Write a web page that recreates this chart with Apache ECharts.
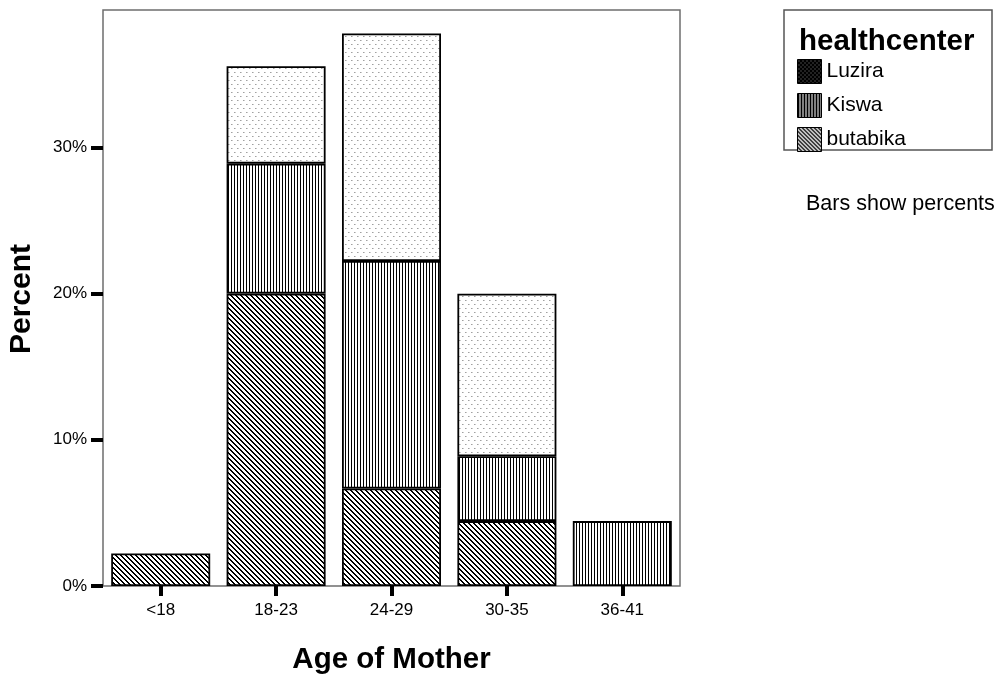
<!DOCTYPE html>
<html>
<head>
<meta charset="utf-8">
<script src="https://cdn.jsdelivr.net/npm/echarts@6/dist/echarts.min.js"></script>
<style>html,body{margin:0;padding:0;background:#fff}#c{width:1000px;height:677px}</style>
</head>
<body>
<div id="c"></div>
<script>
// ---- data (percent of 45 mothers) ----
const categories = ['<18', '18-23', '24-29', '30-35', '36-41'];
const butabika = [2.22, 20.00, 6.67, 4.44, null];
const kiswa    = [null, 8.89, 15.56, 4.44, 4.44];
const luzira   = [null, 6.67, 15.56, 11.11, null];
const yTicks   = [0, 10, 20, 30];
const legendNames = ['Luzira', 'Kiswa', 'butabika'];

function tile(w, h, bg, draw) {
  const c = document.createElement('canvas');
  c.width = w; c.height = h;
  const ctx = c.getContext('2d');
  ctx.fillStyle = bg; ctx.fillRect(0, 0, w, h);
  draw(ctx);
  return { image: c, repeat: 'repeat' };
}
function diag(period, dark) {
  return tile(period, period, '#fff', ctx => {
    ctx.fillStyle = '#000';
    for (let y = 0; y < period; y++) for (let x = 0; x < period; x++)
      if (((x - y) % period + period) % period < dark) ctx.fillRect(x, y, 1, 1);
  });
}
const diagPat = diag(5, 2);
const vertPat = tile(3, 1, '#fff', ctx => { ctx.fillStyle = '#000'; ctx.fillRect(0, 0, 1, 1); });
const dotPat = tile(6, 8, '#fff', ctx => {
  ctx.fillStyle = '#a0a0a0';
  ctx.fillRect(0, 0, 1, 1); ctx.fillRect(3, 4, 1, 1);
  ctx.fillStyle = '#cccccc';
  ctx.fillRect(1, 0, 1, 1); ctx.fillRect(4, 4, 1, 1);
});
const dotLeg = tile(4, 4, '#000', ctx => {
  ctx.fillStyle = '#8a8a8a';
  ctx.fillRect(1, 1, 1, 1); ctx.fillRect(3, 3, 1, 1);
});
const vertLeg = tile(3, 1, '#000', ctx => { ctx.fillStyle = '#fff'; ctx.fillRect(2, 0, 1, 1); });
const diagLeg = diag(4, 2);

const FONT = 'Liberation Sans, Arial, sans-serif';
const chart = echarts.init(document.getElementById('c'), null, { renderer: 'canvas' });
const barStyle = pat => ({ color: pat, borderColor: '#000', borderWidth: 1.8 });

chart.setOption({
  animation: false,
  backgroundColor: '#fff',
  grid: { left: 103, right: 320, top: 10, bottom: 91, show: true,
          borderColor: '#6e6e6e', borderWidth: 1.5, backgroundColor: 'transparent' },
  xAxis: {
    type: 'category', data: categories,
    axisLine: { show: false },
    axisTick: { show: true, alignWithLabel: true, length: 10, lineStyle: { color: '#000', width: 4 } },
    axisLabel: { color: '#000', fontFamily: FONT, fontSize: 17, margin: 16 },
    splitLine: { show: false }
  },
  yAxis: {
    type: 'value', min: 0, max: 39.4, interval: 10,
    axisLine: { show: false },
    axisTick: { show: true, length: 12, customValues: yTicks, lineStyle: { color: '#000', width: 4 } },
    axisLabel: { color: '#000', fontFamily: FONT, fontSize: 17, margin: 16, customValues: yTicks,
                 formatter: v => (v % 10 === 0 ? v + '%' : '') },
    splitLine: { show: false }
  },
  legend: {
    orient: 'vertical', left: 797, top: 59, padding: 0,
    itemWidth: 24, itemHeight: 24, itemGap: 9, icon: 'rect',
    textStyle: { color: '#000', fontFamily: FONT, fontSize: 21 },
    data: [
      { name: legendNames[0], itemStyle: { color: dotLeg, borderColor: '#000', borderWidth: 1 } },
      { name: legendNames[1], itemStyle: { color: vertLeg, borderColor: '#000', borderWidth: 1 } },
      { name: legendNames[2], itemStyle: { color: diagLeg, borderColor: '#000', borderWidth: 1 } }
    ]
  },
  graphic: [
    { type: 'rect', shape: { x: 784, y: 10, width: 208, height: 140 },
      style: { fill: 'none', stroke: '#555', lineWidth: 1.5 }, z: 0 },
    { type: 'text', left: 799, top: 27,
      style: { text: 'healthcenter', fill: '#000', font: 'bold 29.5px ' + FONT } },
    { type: 'text', left: 806, top: 193,
      style: { text: 'Bars show percents', fill: '#000', font: '21.5px ' + FONT } },
    { type: 'text', x: 391.5, y: 660,
      style: { text: 'Age of Mother', fill: '#000', font: 'bold 29.5px ' + FONT, align: 'center', verticalAlign: 'middle' } },
    { type: 'text', x: 22, y: 299, rotation: Math.PI / 2,
      style: { text: 'Percent', fill: '#000', font: 'bold 30px ' + FONT, align: 'center', verticalAlign: 'middle' } }
  ],
  series: [
    { name: 'butabika', type: 'bar', stack: 'a', data: butabika, barWidth: 99, itemStyle: barStyle(diagPat) },
    { name: 'Kiswa', type: 'bar', stack: 'a', data: kiswa, barWidth: 99, itemStyle: barStyle(vertPat) },
    { name: 'Luzira', type: 'bar', stack: 'a', data: luzira, barWidth: 99, itemStyle: barStyle(dotPat) }
  ]
});
</script>
</body>
</html>
